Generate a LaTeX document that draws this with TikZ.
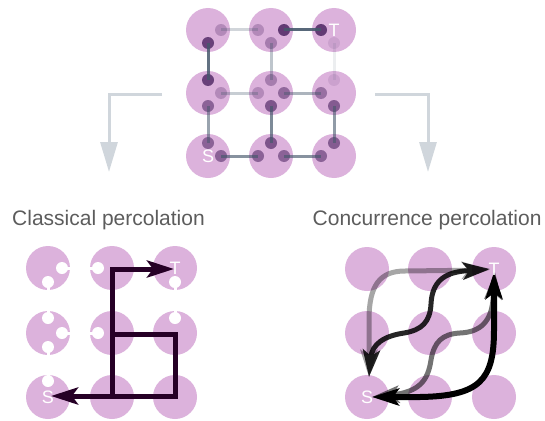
\documentclass[tikz,border=0pt]{standalone}
\usepackage{fontspec}
\setmainfont{Liberation Sans}
\usetikzlibrary{arrows.meta}
\definecolor{cell}{RGB}{220,178,220}
\definecolor{qdot}{RGB}{85,45,105}
\definecolor{bond}{RGB}{70,88,108}
\definecolor{flow}{RGB}{208,214,220}
\definecolor{pathc}{RGB}{38,0,38}
\definecolor{lbl}{RGB}{92,92,92}
\tikzset{
  cellc/.style={circle,fill=cell,minimum size=44pt,inner sep=0pt},
  qd/.style={circle,fill=qdot,minimum size=12pt,inner sep=0pt},
  hole/.style={circle,fill=white,minimum size=12pt,inner sep=0pt},
  stub/.style={draw=white,line width=3pt},
  bondl/.style={draw=bond,line width=3pt},
  flowline/.style={draw=flow,line width=3pt,-{Triangle[length=30pt,width=17pt]}},
  stlab/.style={text=white,font=\fontsize{18}{18}\selectfont,inner sep=0pt},
  caption/.style={text=lbl,font=\fontsize{21}{22}\selectfont,inner sep=0pt,anchor=base west},
  blk/.style={draw=pathc,line width=5pt,line join=miter},
  crv/.style={draw=black,line width=5pt},
}
\begin{document}
\begin{tikzpicture}[x=1pt,y=-1pt,>={Stealth[length=27pt,width=17pt,inset=6pt]}]
\useasboundingbox (0,0) rectangle (545,420);
% ---------- top grid ----------
\node[cellc] (a11) at (208,30) {};
\node[cellc] (a12) at (271,30) {};
\node[cellc] (a13) at (334,30) {};
\node[cellc] (a21) at (208,93) {};
\node[cellc] (a22) at (271,93) {};
\node[cellc] (a23) at (334,93) {};
\node[cellc] (a31) at (208,156) {};
\node[cellc] (a32) at (271,156) {};
\node[cellc] (a33) at (334,156) {};
% dots
\node[qd,opacity=.3]  (tlR) at (221,30) {};
\node[qd,opacity=.85] (tlB) at (208,43) {};
\node[qd,opacity=.3]  (tmL) at (258,30) {};
\node[qd,opacity=.9]  (tmR) at (284,30) {};
\node[qd,opacity=.4]  (tmB) at (271,43) {};
\node[qd,opacity=.9]  (trL) at (321,30) {};
\node[qd,opacity=.12] (trB) at (334,43) {};
\node[qd,opacity=.85] (mlT) at (208,80) {};
\node[qd,opacity=.3]  (mlR) at (221,93) {};
\node[qd,opacity=.6]  (mlB) at (208,106) {};
\node[qd,opacity=.4]  (mcT) at (271,80) {};
\node[qd,opacity=.3]  (mcL) at (258,93) {};
\node[qd,opacity=.55] (mcR) at (284,93) {};
\node[qd,opacity=.7]  (mcB) at (271,106) {};
\node[qd,opacity=.12] (mrT) at (334,80) {};
\node[qd,opacity=.5]  (mrL) at (321,93) {};
\node[qd,opacity=.65] (mrB) at (334,106) {};
\node[qd,opacity=.6]  (blT) at (208,143) {};
\node[qd,opacity=.6]  (blR) at (221,156) {};
\node[qd,opacity=.7]  (bmT) at (271,143) {};
\node[qd,opacity=.6]  (bmL) at (258,156) {};
\node[qd,opacity=.6]  (bmR) at (284,156) {};
\node[qd,opacity=.65] (brT) at (334,143) {};
\node[qd,opacity=.6]  (brL) at (321,156) {};
% bonds
\draw[bondl,opacity=.25] (tlR.center) -- (tmL.center);
\draw[bondl,opacity=.9]  (tmR.center) -- (trL.center);
\draw[bondl,opacity=.85] (tlB.center) -- (mlT.center);
\draw[bondl,opacity=.55] (mlB.center) -- (blT.center);
\draw[bondl,opacity=.35] (tmB.center) -- (mcT.center);
\draw[bondl,opacity=.7]  (mcB.center) -- (bmT.center);
\draw[bondl,opacity=.1]  (trB.center) -- (mrT.center);
\draw[bondl,opacity=.6]  (mrB.center) -- (brT.center);
\draw[bondl,opacity=.3]  (mlR.center) -- (mcL.center);
\draw[bondl,opacity=.45] (mcR.center) -- (mrL.center);
\draw[bondl,opacity=.65] (blR.center) -- (bmL.center);
\draw[bondl,opacity=.65] (bmR.center) -- (brL.center);
\node[stlab] (aS) at (a31) {S};
\node[stlab] (aT) at (a13) {T};
% ---------- flow arrows ----------
\coordinate (la0) at (162,94);
\coordinate (la1) at (109,94);
\coordinate (la2) at (109,172);
\draw[flowline] (la0) -- (la1) -- (la2);
\coordinate (ra0) at (375,94);
\coordinate (ra1) at (428,94);
\coordinate (ra2) at (428,172);
\draw[flowline] (ra0) -- (ra1) -- (ra2);
% ---------- captions ----------
\node[caption] (capL) at (12,225.5) {Classical percolation};
\node[caption] (capR) at (312.5,225.5) {Concurrence percolation};
% ---------- bottom-left grid ----------
\node[cellc] (b11) at (48,268) {};
\node[cellc] (b12) at (112,268) {};
\node[cellc] (b13) at (175,268) {};
\node[cellc] (b21) at (48,333) {};
\node[cellc] (b22) at (112,333) {};
\node[cellc] (b23) at (175,333) {};
\node[cellc] (b31) at (48,397) {};
\node[cellc] (b32) at (112,397) {};
\node[cellc] (b33) at (175,397) {};
% holes
\node[hole] (h1) at (62,268) {};  \draw[stub] (h1.center) -- +(12,0);
\node[hole] (h2) at (48,282) {};  \draw[stub] (h2.center) -- +(0,12);
\node[hole] (h3) at (98,268) {};  \draw[stub] (h3.center) -- +(-12,0);
\node[hole] (h4) at (175,282) {}; \draw[stub] (h4.center) -- +(0,12);
\node[hole] (h5) at (48,318) {};  \draw[stub] (h5.center) -- +(0,-12);
\node[hole] (h6) at (62,333) {};  \draw[stub] (h6.center) -- +(12,0);
\node[hole] (h7) at (48,347) {};  \draw[stub] (h7.center) -- +(0,12);
\node[hole] (h8) at (98,333) {};  \draw[stub] (h8.center) -- +(-12,0);
\node[hole] (h9) at (175,318) {}; \draw[stub] (h9.center) -- +(0,-12);
\node[hole] (h10) at (48,381) {}; \draw[stub] (h10.center) -- +(0,-12);
% black path
\coordinate (p1) at (112,269);
\coordinate (pT) at (174,269);
\coordinate (p2) at (112,396);
\coordinate (p3) at (112,334);
\coordinate (p4) at (175,334);
\coordinate (p5) at (175,396);
\coordinate (pS) at (51,396);
\draw[blk,->] (p2) -- (p1) -- (pT);
\draw[blk,->] (p3) -- (p4) -- (p5) -- (pS);
\node[stlab] (bS) at (b31) {S};
\node[stlab] (bT) at (b13) {T};
% ---------- bottom-right grid ----------
\node[cellc] (c11) at (367,269) {};
\node[cellc] (c12) at (430,269) {};
\node[cellc] (c13) at (494,269) {};
\node[cellc] (c21) at (367,333) {};
\node[cellc] (c22) at (430,333) {};
\node[cellc] (c23) at (494,333) {};
\node[cellc] (c31) at (367,397) {};
\node[cellc] (c32) at (430,397) {};
\node[cellc] (c33) at (494,397) {};
\coordinate (sA) at (369,377);
\coordinate (tA) at (489,270);
\coordinate (sB) at (369,377);
\coordinate (tB) at (490,269);
\coordinate (sC) at (372,397);
\coordinate (tC) at (495,272);
\coordinate (sD) at (372,397);
\coordinate (tD) at (494,272);
\begin{scope}[transparency group,opacity=.35]
\draw[crv,<->] (sA) -- (369,320) .. controls (369,285) and (380,271) .. (405,271) -- (tA);
\end{scope}
\begin{scope}[transparency group,opacity=.55]
\draw[crv,<->] (sC) .. controls (420,392) and (428,380) .. (431,360)
  .. controls (434,342) and (442,334) .. (460,333)
  .. controls (482,332) and (491,320) .. (493,300) -- (tC);
\end{scope}
\begin{scope}[transparency group,opacity=.85]
\draw[crv,<->] (sB) .. controls (372,344) and (384,336) .. (404,333)
  .. controls (422,330) and (430,322) .. (431,304)
  .. controls (432,282) and (444,273) .. (464,271) -- (tB);
\end{scope}
\draw[crv,line width=6pt,<->] (sD) -- (420,397) .. controls (480,396) and (494,380) .. (494,330) -- (tD);
\node[stlab] (cS) at (c31) {S};
\node[stlab] (cT) at (c13) {T};
\end{tikzpicture}
\end{document}
